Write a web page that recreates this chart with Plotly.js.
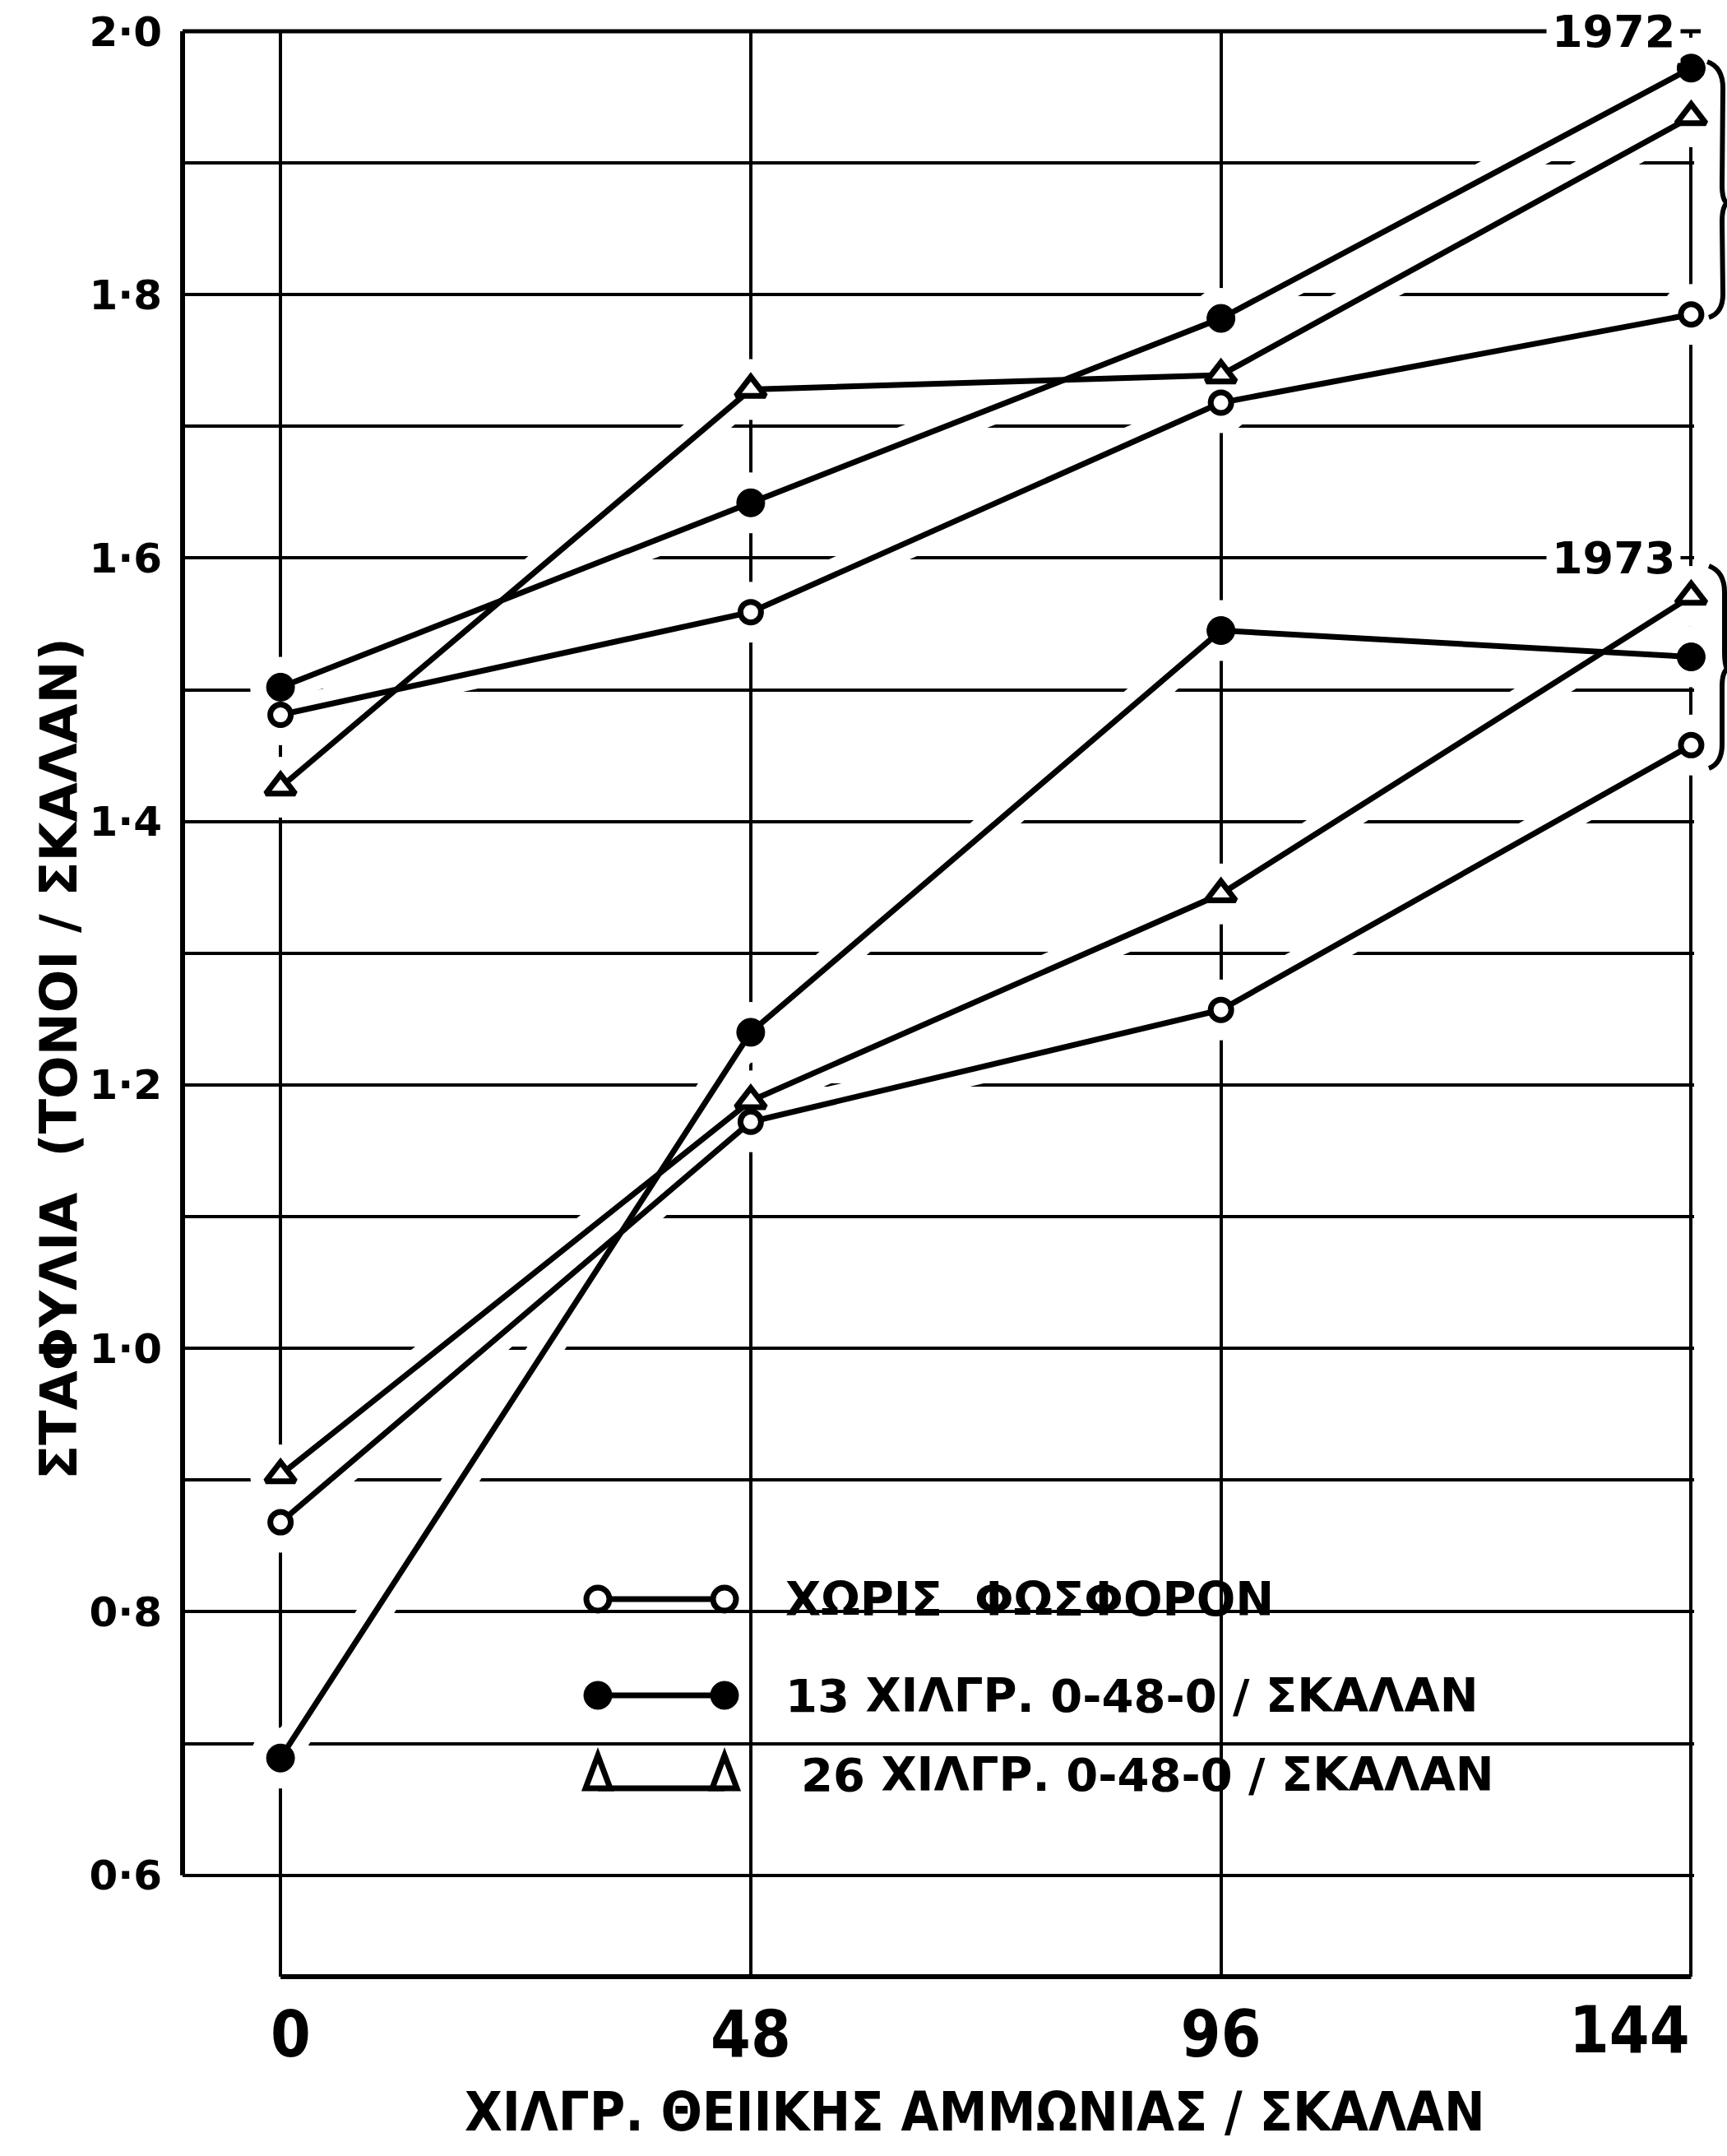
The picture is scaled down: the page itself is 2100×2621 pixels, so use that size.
<!DOCTYPE html>
<html>
<head>
<meta charset="utf-8">
<script src="https://cdn.plot.ly/plotly-3.0.1.min.js"></script>
<style>
  html, body { margin: 0; padding: 0; background: #ffffff; }
  #chart { width: 2100px; height: 2621px; }
</style>
</head>
<body>
<div id="chart"></div>
<script>
// ---------------- DATA ----------------
const xDoses = [0, 48, 96, 144];
const xTickText = ['0', '48', '96', '144'];

const y1972None = [1.481, 1.559, 1.718, 1.785];
const y1972P13  = [1.502, 1.642, 1.782, 1.972];
const y1972P26  = [1.426, 1.728, 1.739, 1.935];

const y1973None = [0.868, 1.172, 1.257, 1.458];
const y1973P13  = [0.689, 1.240, 1.545, 1.525];
const y1973P26  = [0.904, 1.188, 1.345, 1.571];

const seriesNames = ['ΧΩΡΙΣ  ΦΩΣΦΟΡΟΝ', '13 ΧΙΛΓΡ. 0-48-0 / ΣΚΑΛΑΝ', '26 ΧΙΛΓΡ. 0-48-0 / ΣΚΑΛΑΝ'];
const yearLabels = ['1972', '1973'];

const yTickVals = [0.6, 0.7, 0.8, 0.9, 1.0, 1.1, 1.2, 1.3, 1.4, 1.5, 1.6, 1.7, 1.8, 1.9, 2.0];
const yTickText = ['0·6', '', '0·8', '', '1·0', '', '1·2', '', '1·4', '', '1·6', '', '1·8', '', '2·0'];

const xTitle = 'ΧΙΛΓΡ. ΘΕΙΙΚΗΣ ΑΜΜΩΝΙΑΣ / ΣΚΑΛΑΝ';
const yTitle = 'ΣΤΑΦΥΛΙΑ  (ΤΟΝΟΙ / ΣΚΑΛΑΝ)';

// ---------------- GEOMETRY ----------------
const W = 2100, H = 2621;
const M = { l: 222, r: 40, t: 38, b: 218 };
const PW = W - M.l - M.r, PH = H - M.t - M.b;
const px = v => (v - M.l) / PW;          // pixel -> paper x
const py = v => (H - M.b - v) / PH;      // pixel -> paper y

const BOLD = 'DejaVu Sans';
const NARROW = 'Liberation Sans Narrow, DejaVu Sans Condensed, DejaVu Sans';
const INK = '#000000';

// ---------------- TRACES ----------------
const series = [
  { y: y1972None, kind: 'none' }, { y: y1972P13, kind: 'p13' }, { y: y1972P26, kind: 'p26' },
  { y: y1973None, kind: 'none' }, { y: y1973P13, kind: 'p13' }, { y: y1973P26, kind: 'p26' }
];
const markerStyle = {
  none: { symbol: 'circle', size: 25, color: '#ffffff', line: { color: INK, width: 7 } },
  p13:  { symbol: 'circle', size: 34, color: INK, line: { color: INK, width: 1 } },
  p26:  { symbol: 'triangle-up', size: 31, color: '#ffffff', line: { color: INK, width: 7 } }
};
const nameOf = { none: seriesNames[0], p13: seriesNames[1], p26: seriesNames[2] };

const traces = [];
// white underlays: break the grid where the drawn lines and markers sit
series.forEach(s => {
  traces.push({ x: xDoses, y: s.y, type: 'scatter', mode: 'lines', cliponaxis: false,
    line: { color: '#ffffff', width: 40 }, hoverinfo: 'skip', showlegend: false });
  traces.push({ x: xDoses, y: s.y, type: 'scatter', mode: 'markers', cliponaxis: false,
    marker: { color: '#ffffff', size: 74, line: { width: 0 } }, hoverinfo: 'skip', showlegend: false });
});
// actual series
series.forEach(s => {
  traces.push({ x: xDoses, y: s.y, type: 'scatter', mode: 'lines+markers', cliponaxis: false,
    name: nameOf[s.kind], line: { color: INK, width: 7 }, marker: markerStyle[s.kind], showlegend: false });
});

// ---------------- SHAPES ----------------
const shapes = [];
// frame (left frame stops at 0.6, bottom frame starts at x=0)
shapes.push({ type: 'line', xref: 'paper', yref: 'paper', x0: 0, x1: px(2068), y0: 1, y1: 1,
  line: { color: INK, width: 5 }, layer: 'above' });
shapes.push({ type: 'line', xref: 'paper', yref: 'y', x0: 0, x1: 0, y0: 0.6, y1: 2.0,
  line: { color: INK, width: 6 }, layer: 'above' });
shapes.push({ type: 'line', xref: 'x', yref: 'paper', x0: 0, x1: 144, y0: 0, y1: 0,
  line: { color: INK, width: 6 }, layer: 'above' });

// white boxes where the grid is interrupted (legend text, year label)
[[935, 1580, 1878, 1998], [935, 1850, 1998, 2112], [955, 1835, 2112, 2200], [690, 912, 2112, 2150],
 [1880, 2064, 655, 706]].forEach(b => {
  shapes.push({ type: 'rect', xref: 'paper', yref: 'paper', x0: px(b[0]), x1: px(b[1]), y0: py(b[3]), y1: py(b[2]),
    fillcolor: '#ffffff', line: { width: 0 }, layer: 'between' });
});

// legend symbols
const legX0 = 727, legX1 = 881, legRows = [1944, 2061, 2157];
shapes.push({ type: 'line', xref: 'paper', yref: 'paper', x0: px(legX0), x1: px(legX1), y0: py(legRows[0]), y1: py(legRows[0]),
  line: { color: INK, width: 7 }, layer: 'above' });
shapes.push({ type: 'line', xref: 'paper', yref: 'paper', x0: px(legX0), x1: px(legX1), y0: py(legRows[1]), y1: py(legRows[1]),
  line: { color: INK, width: 7 }, layer: 'above' });
shapes.push({ type: 'line', xref: 'paper', yref: 'paper', x0: px(legX0), x1: px(legX1), y0: py(legRows[2] + 17), y1: py(legRows[2] + 17),
  line: { color: INK, width: 7 }, layer: 'above' });
[legX0, legX1].forEach(cx => {
  const r0 = 14;
  shapes.push({ type: 'circle', xref: 'paper', yref: 'paper', x0: px(cx - r0), x1: px(cx + r0),
    y0: py(legRows[0] + r0), y1: py(legRows[0] - r0), fillcolor: '#ffffff', line: { color: INK, width: 7 }, layer: 'above' });
  const r1 = 17;
  shapes.push({ type: 'circle', xref: 'paper', yref: 'paper', x0: px(cx - r1), x1: px(cx + r1),
    y0: py(legRows[1] + r1), y1: py(legRows[1] - r1), fillcolor: INK, line: { color: INK, width: 1 }, layer: 'above' });
  const cy = legRows[2];
  const tri = 'M' + px(cx - 15) + ',' + py(cy + 17) + ' L' + px(cx) + ',' + py(cy - 23) + ' L' + px(cx + 15) + ',' + py(cy + 17) + ' Z';
  shapes.push({ type: 'path', xref: 'paper', yref: 'paper', path: tri, fillcolor: '#ffffff',
    line: { color: INK, width: 7 }, layer: 'above' });
});

// year braces on the right edge
function bracePath(pts) {
  return pts.map(p => p[0] + (p.length > 3 ? px(p[1]) + ',' + py(p[2]) + ' ' + px(p[3]) + ',' + py(p[4]) : px(p[1]) + ',' + py(p[2]))).join(' ');
}
const brace72 = bracePath([['M', 2076, 75], ['Q', 2096, 82, 2095, 110], ['L', 2094, 225], ['Q', 2094, 243, 2100, 247],
  ['Q', 2094, 251, 2094, 270], ['L', 2095, 355], ['Q', 2096, 380, 2078, 386]]);
const brace73 = bracePath([['M', 2078, 688], ['Q', 2097, 695, 2097, 720], ['L', 2097, 792], ['Q', 2097, 808, 2100, 813],
  ['Q', 2094, 818, 2094, 835], ['L', 2094, 905], ['Q', 2094, 928, 2078, 934]]);
[brace72, brace73].forEach(p => shapes.push({ type: 'path', xref: 'paper', yref: 'paper', path: p,
  line: { color: INK, width: 6 }, layer: 'above' }));

// ---------------- ANNOTATIONS ----------------
const annotations = [];
legRows.forEach((ry, i) => {
  annotations.push({ xref: 'paper', yref: 'paper', x: px(i === 2 ? 972 : 953), y: py(ry), xanchor: 'left', yanchor: 'middle',
    text: seriesNames[i], showarrow: false, font: { family: BOLD, size: 56, weight: 700, color: INK } });
});
annotations.push({ xref: 'paper', yref: 'y', x: px(1962), y: 2.0, xanchor: 'center', yanchor: 'middle',
  text: yearLabels[0], showarrow: false, bgcolor: '#ffffff', borderpad: 6,
  font: { family: BOLD, size: 54, weight: 700, color: INK } });
annotations.push({ xref: 'paper', yref: 'y', x: px(1962), y: 1.6, xanchor: 'center', yanchor: 'middle',
  text: yearLabels[1], showarrow: false, bgcolor: '#ffffff', borderpad: 6,
  font: { family: BOLD, size: 54, weight: 700, color: INK } });
// last x tick label sits flush against its grid line (left of it), as in the original
annotations.push({ xref: 'x', yref: 'paper', x: xDoses[3], y: py(2468), xanchor: 'right', yanchor: 'middle',
  text: xTickText[3], showarrow: false, font: { family: NARROW, size: 78, weight: 700, color: INK } });
// axis titles, placed where the original has them (off-centre from the plot area)
annotations.push({ xref: 'paper', yref: 'paper', x: px(1185), y: py(2568), xanchor: 'center', yanchor: 'middle',
  text: xTitle, showarrow: false, font: { family: NARROW, size: 66, weight: 700, color: INK } });
annotations.push({ xref: 'paper', yref: 'paper', x: px(72), y: py(1287), xanchor: 'center', yanchor: 'middle',
  text: yTitle, textangle: -90, showarrow: false, font: { family: BOLD, size: 62, weight: 700, color: INK } });

// ---------------- LAYOUT ----------------
const layout = {
  width: W, height: H,
  margin: { l: M.l, r: M.r, t: M.t, b: M.b, pad: 0 },
  paper_bgcolor: '#ffffff', plot_bgcolor: '#ffffff',
  showlegend: false,
  xaxis: {
    range: [-10, 144.3], tickmode: 'array', tickvals: xDoses,
    ticktext: ['\u00a0' + xTickText[0], xTickText[1], xTickText[2], ''],
    showgrid: true, gridcolor: INK, gridwidth: 4, zeroline: false, showline: false, ticks: '',
    ticklabelstandoff: 18,
    tickfont: { family: NARROW, size: 78, weight: 700, color: INK }
  },
  yaxis: {
    range: [0.523, 2.0], tickmode: 'array', tickvals: yTickVals, ticktext: yTickText,
    showgrid: true, gridcolor: INK, gridwidth: 4, zeroline: false, showline: false, ticks: '',
    ticklabelstandoff: 24,
    tickfont: { family: BOLD, size: 50, weight: 700, color: INK }
  },
  shapes: shapes,
  annotations: annotations
};

Plotly.newPlot('chart', traces, layout, { staticPlot: true, displayModeBar: false });
</script>
</body>
</html>
